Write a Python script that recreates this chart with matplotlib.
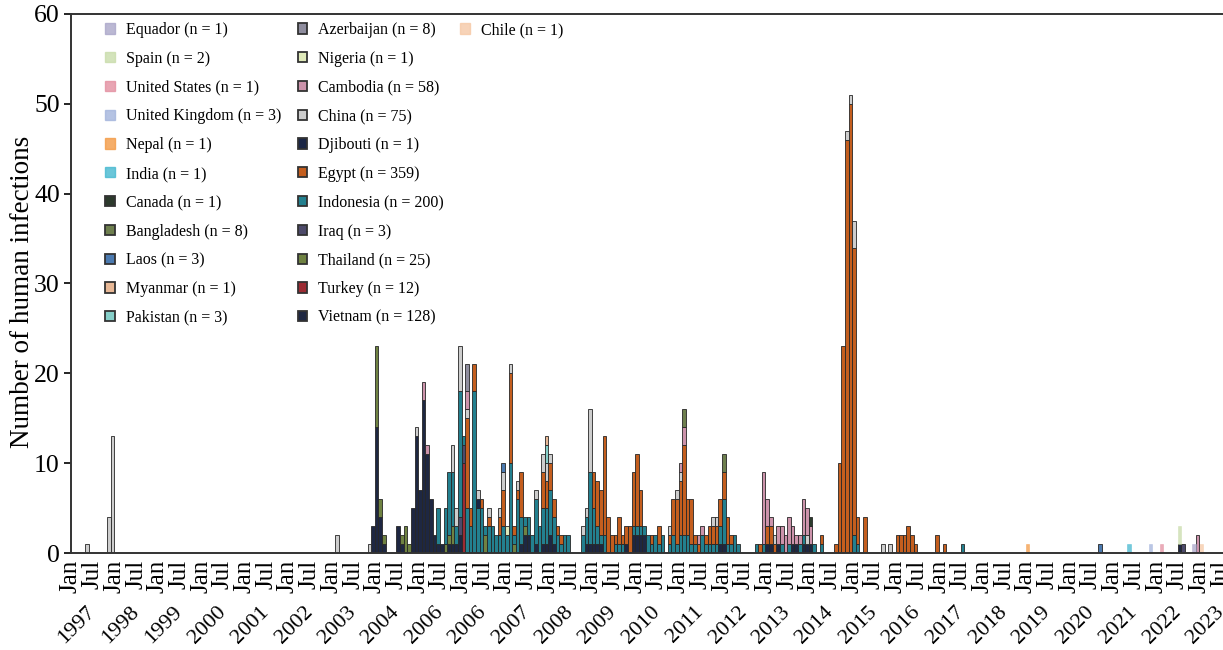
import numpy as np
import pandas as pd
import matplotlib
matplotlib.use('Agg')
import matplotlib.pyplot as plt
from matplotlib.patches import Patch
from matplotlib.transforms import blended_transform_factory

plt.rcParams['font.family'] = ['Liberation Serif', 'DejaVu Serif']

# monthly human infections per country, "YYYY-MM": cases
equador = {'2022-11': 1}
spain = {'2022-07': 2}
united_states = {'2022-02': 1}
united_kingdom = {'2021-11': 1}
nepal = {'2019-01': 1}
india = {'2021-05': 1}
canada = {'2014-01': 1}
bangladesh = {'2011-02': 2, '2012-01': 2}
laos = {'2006-12': 1, '2020-09': 1}
myanmar = {'2007-12': 1}
pakistan = {'2007-12': 2}
azerbaijan = {'2006-02': 3}
nigeria = {'2007-01': 1}
cambodia = {'2005-02': 2, '2005-03': 1, '2006-02': 2, '2011-01': 1, '2011-02': 2,
            '2011-06': 1, '2011-07': 1, '2012-12': 8, '2013-01': 3, '2013-02': 1,
            '2013-04': 2, '2013-05': 2, '2013-06': 2, '2013-07': 3, '2013-08': 2,
            '2013-09': 1, '2013-10': 1, '2013-11': 4, '2013-12': 3, '2014-01': 2,
            '2022-12': 2}
china = {'1997-05': 1, '1997-11': 4, '1997-12': 13, '2003-02': 2, '2003-11': 1,
         '2004-12': 1, '2005-10': 3, '2005-11': 2, '2005-12': 5, '2006-02': 1,
         '2006-05': 1, '2006-08': 1, '2006-11': 1, '2006-12': 2, '2007-02': 1,
         '2007-04': 1, '2007-09': 1, '2007-11': 2, '2007-12': 2, '2008-01': 1,
         '2008-10': 1, '2008-11': 1, '2008-12': 7, '2010-10': 1, '2010-12': 1,
         '2011-01': 1, '2011-10': 1, '2011-11': 1, '2013-03': 1, '2013-12': 1,
         '2014-11': 1, '2014-12': 1, '2015-01': 3, '2015-09': 1, '2015-11': 1}
djibouti = {'2006-05': 1}
egypt = {'2006-02': 10, '2006-03': 2, '2006-04': 3, '2006-06': 1, '2006-08': 1,
         '2006-11': 2, '2006-12': 4, '2007-02': 10, '2007-03': 1, '2007-04': 1,
         '2007-05': 5, '2007-11': 4, '2007-12': 3, '2008-01': 3, '2008-02': 2,
         '2008-03': 1, '2008-04': 1, '2009-01': 4, '2009-02': 5, '2009-03': 5,
         '2009-04': 11, '2009-05': 4, '2009-06': 2, '2009-07': 1, '2009-08': 3,
         '2009-09': 1, '2009-10': 2, '2009-11': 3, '2009-12': 6, '2010-01': 8,
         '2010-02': 4, '2010-05': 1, '2010-07': 2, '2010-10': 1, '2010-11': 4,
         '2010-12': 5, '2011-01': 6, '2011-02': 10, '2011-03': 4, '2011-04': 5,
         '2011-05': 1, '2011-06': 1, '2011-08': 1, '2011-09': 2, '2011-10': 2,
         '2011-11': 2, '2011-12': 3, '2012-01': 3, '2012-02': 3, '2012-03': 1,
         '2012-11': 1, '2013-01': 2, '2013-02': 2, '2013-03': 1, '2014-04': 1,
         '2014-08': 1, '2014-09': 10, '2014-10': 23, '2014-11': 46, '2014-12': 50,
         '2015-01': 32, '2015-02': 3, '2015-04': 4, '2016-01': 2, '2016-02': 2,
         '2016-03': 2, '2016-04': 3, '2016-05': 2, '2016-06': 1, '2016-12': 2,
         '2017-02': 1}
indonesia = {'2005-06': 4, '2005-08': 4, '2005-09': 7, '2005-10': 6, '2005-11': 2,
             '2005-12': 14, '2006-01': 1, '2006-02': 5, '2006-03': 3, '2006-04': 18,
             '2006-05': 5, '2006-06': 5, '2006-07': 1, '2006-08': 3, '2006-09': 3,
             '2006-10': 2, '2006-11': 2, '2006-12': 3, '2007-01': 2, '2007-02': 10,
             '2007-03': 1, '2007-04': 6, '2007-05': 3, '2007-06': 1, '2007-07': 2,
             '2007-08': 2, '2007-09': 5, '2007-10': 3, '2007-11': 4, '2007-12': 4,
             '2008-01': 5, '2008-02': 3, '2008-03': 2, '2008-04': 1, '2008-05': 2,
             '2008-06': 2, '2008-10': 2, '2008-11': 3, '2008-12': 8, '2009-01': 4,
             '2009-02': 2, '2009-03': 1, '2009-04': 2, '2009-07': 1, '2009-08': 1,
             '2009-09': 1, '2009-12': 1, '2010-01': 1, '2010-02': 1, '2010-03': 1,
             '2010-04': 2, '2010-05': 1, '2010-06': 2, '2010-07': 1, '2010-08': 2,
             '2010-10': 1, '2010-11': 2, '2010-12': 1, '2011-01': 2, '2011-02': 2,
             '2011-03': 2, '2011-04': 1, '2011-05': 1, '2011-07': 2, '2011-08': 1,
             '2011-09': 1, '2011-10': 1, '2011-11': 1, '2011-12': 2, '2012-01': 5,
             '2012-02': 1, '2012-03': 1, '2012-04': 2, '2012-05': 1, '2012-10': 1,
             '2012-12': 1, '2013-05': 1, '2013-07': 1, '2013-10': 1, '2013-11': 1,
             '2014-02': 1, '2014-04': 1, '2015-01': 2, '2015-02': 1, '2017-07': 1}
iraq = {'2005-12': 2, '2006-01': 2, '2022-08': 1}
thailand = {'2004-01': 9, '2004-02': 2, '2004-03': 1, '2004-08': 1, '2004-09': 3,
            '2004-10': 1, '2005-08': 1, '2005-09': 1, '2005-10': 2, '2006-07': 2,
            '2007-03': 1, '2007-06': 1}
turkey = {'2006-01': 10}
vietnam = {'2003-12': 3, '2004-01': 14, '2004-02': 4, '2004-03': 1, '2004-07': 3,
           '2004-08': 1, '2004-11': 5, '2004-12': 13, '2005-01': 7, '2005-02': 17,
           '2005-03': 11, '2005-04': 6, '2005-05': 2, '2005-06': 1, '2005-07': 1,
           '2005-09': 1, '2005-10': 1, '2005-11': 1, '2005-12': 2, '2007-05': 1,
           '2007-06': 2, '2007-07': 2, '2007-09': 1, '2007-11': 1, '2007-12': 1,
           '2008-01': 2, '2008-02': 1, '2008-11': 1, '2008-12': 1, '2009-01': 1,
           '2009-02': 1, '2009-03': 1, '2009-10': 1, '2009-12': 2, '2010-01': 2,
           '2010-02': 2, '2010-03': 2, '2011-12': 1, '2012-01': 1, '2013-01': 1,
           '2013-02': 1, '2013-04': 1, '2013-08': 1, '2013-09': 1, '2013-11': 1,
           '2013-12': 1, '2014-01': 1, '2022-07': 1}
chile = {'2023-01': 1}

countries = ['Equador', 'Spain', 'United States', 'United Kingdom', 'Nepal', 'India',
             'Canada', 'Bangladesh', 'Laos', 'Myanmar', 'Pakistan', 'Azerbaijan',
             'Nigeria', 'Cambodia', 'China', 'Djibouti', 'Egypt', 'Indonesia', 'Iraq',
             'Thailand', 'Turkey', 'Vietnam', 'Chile']
legend_n = [1, 2, 1, 3, 1, 1, 1, 8, 3, 1, 3, 8, 1, 58, 75, 1, 359, 200, 3, 25, 12, 128, 1]
country_data = [equador, spain, united_states, united_kingdom, nepal, india, canada,
                bangladesh, laos, myanmar, pakistan, azerbaijan, nigeria, cambodia,
                china, djibouti, egypt, indonesia, iraq, thailand, turkey, vietnam, chile]
colors = ['#aaa6c9', '#c9dcaa', '#e38fa0', '#a3b4dc', '#f39a45', '#45b8d0',
          '#2c3a2c', '#6e7f4e', '#4b7ab0', '#e8b896', '#86cfc9', '#8f8d9e',
          '#dfe9b9', '#cc93ab', '#cdcdcd', '#1b2645', '#c45e1e', '#23808f',
          '#4d4a6a', '#6f8242', '#9c2b33', '#1e2742', '#f6c9a6']
faded = {'Equador', 'Spain', 'United States', 'United Kingdom', 'Nepal', 'India', 'Chile'}

year_labels = ['1997', '1998', '1999', '2000', '2001', '2002', '2003', '2004', '2006',
               '2006', '2007', '2008', '2009', '2010', '2011', '2012', '2013', '2014',
               '2015', '2016', '2017', '2018', '2019', '2020', '2021', '2022', '2023']

months = pd.period_range('1997-01', '2023-07', freq='M').astype(str)
df = pd.DataFrame(0, index=months, columns=countries)
for name, data in zip(countries, country_data):
    for key, val in data.items():
        df.loc[key, name] = val

fig = plt.figure(figsize=(12.23, 6.5), dpi=100)
ax = fig.add_axes([0.058, 0.1492, 0.942, 0.8293])

x = np.arange(len(df)) + 0.5
bottom = np.zeros(len(df))
for name, col in zip(countries[::-1], colors[::-1]):
    vals = df[name].values.astype(float)
    m = vals > 0
    if name in faded:
        ax.bar(x[m], vals[m], width=1.0, bottom=bottom[m], color=col, alpha=0.75,
               edgecolor=col, linewidth=0.4)
    else:
        ax.bar(x[m], vals[m], width=1.0, bottom=bottom[m], color=col,
               edgecolor='#262626', linewidth=0.6)
    bottom += vals

ax.set_xlim(0, 318.5)
ax.set_ylim(0, 60)
ax.set_yticks(range(0, 61, 10))
ax.tick_params(axis='y', labelsize=18.5, direction='out', length=5, width=1.2, pad=3)
xt = np.arange(0, 319, 6)
ax.set_xticks(xt)
ax.set_xticklabels(['Jan' if t % 12 == 0 else 'Jul' for t in xt], rotation=90)
ax.tick_params(axis='x', labelsize=18, length=0, pad=5)

trans = blended_transform_factory(ax.transData, ax.transAxes)
for i, yr in enumerate(year_labels):
    ax.text(i * 12 + 7.9, -0.092, yr, transform=trans, rotation=45, ha='right',
            va='top', fontsize=16, clip_on=False)

ax.set_ylabel('Number of human infections', fontsize=19.5)
ax.yaxis.set_label_coords(-0.031, 0.485)

for s in ['left', 'bottom', 'top']:
    ax.spines[s].set_color('#333333')
    ax.spines[s].set_linewidth(1.4)
ax.spines['right'].set_visible(False)

handles = []
labels = []
for name, n, col in zip(countries, legend_n, colors):
    if name in faded:
        handles.append(Patch(facecolor=col, edgecolor=col, alpha=0.8))
    else:
        handles.append(Patch(facecolor=col, edgecolor='#333333', linewidth=1.3))
    labels.append(f'{name} (n = {n})')
for _ in range(10):
    handles.append(Patch(facecolor='none', edgecolor='none'))
    labels.append('')
ax.legend(handles, labels, ncol=3, loc='upper left', bbox_to_anchor=(0.03, 0.985),
          frameon=False, fontsize=11.5, handlelength=0.6, handleheight=0.6,
          handletextpad=0.7, labelspacing=0.8, columnspacing=1.0, borderpad=0,
          borderaxespad=0)

fig.savefig('out.png', dpi=100)
